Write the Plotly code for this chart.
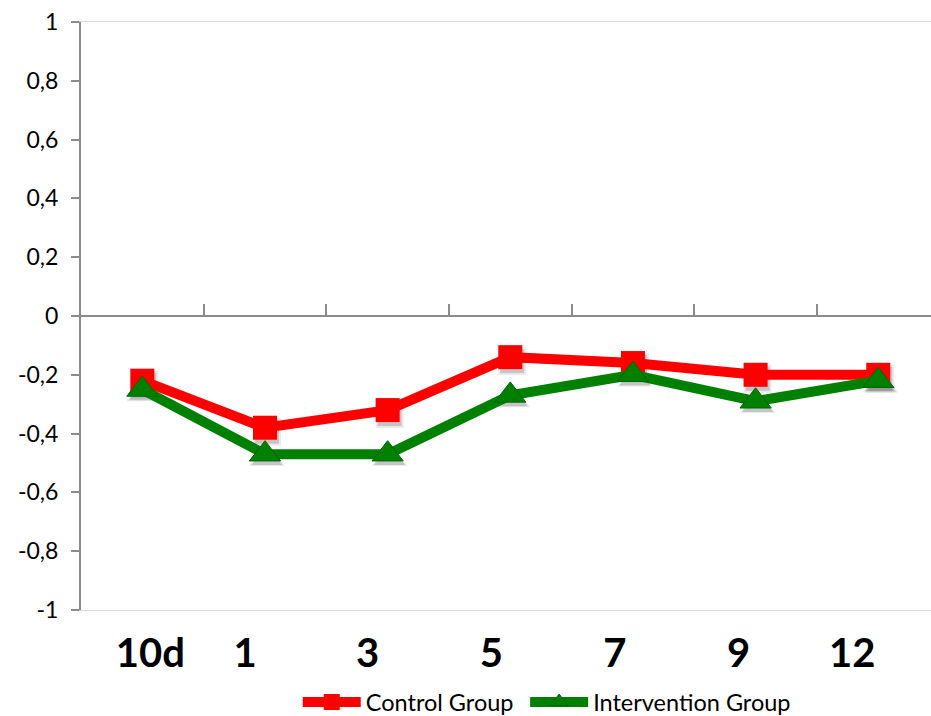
import plotly.graph_objects as go

# Time points and group means
categories = ["10d", "1", "3", "5", "7", "9", "12"]
control_group = [-0.22, -0.38, -0.32, -0.14, -0.16, -0.20, -0.20]
intervention_group = [-0.25, -0.47, -0.47, -0.27, -0.20, -0.29, -0.22]

y_tick_vals = [1, 0.8, 0.6, 0.4, 0.2, 0, -0.2, -0.4, -0.6, -0.8, -1]
y_tick_text = ["1", "0,8", "0,6", "0,4", "0,2", "0", "-0,2", "-0,4", "-0,6", "-0,8", "-1"]
boundary_ticks = [0.5, 1.5, 2.5, 3.5, 4.5, 5.5]

# horizontal nudge (px) of each category label from its slot centre
label_nudge_px = [8, -20, -20, -19, -18, -17, -26]

RED = "#FF0000"
GREEN = "#008000"
AXIS_GRAY = "#8c8c8c"
FONT = "Lato"

W, H = 931, 716
M_L, M_R, M_T, M_B = 81, 0, 22, 106
X_RANGE = [-0.5, 6.43]
Y_RANGE = [-1, 1]

px_per_x = (W - M_L - M_R) / (X_RANGE[1] - X_RANGE[0])
px_per_y = (H - M_T - M_B) / (Y_RANGE[1] - Y_RANGE[0])

# drop-shadow offset in pixels, converted to axis units
dx, dy = 2 / px_per_x, 4 / px_per_y

label_positions = [i + n / px_per_x for i, n in enumerate(label_nudge_px)]

fig = go.Figure()

# soft marker shadows on a hidden, slightly shifted axis pair
for vals, sym, size in [(control_group, "square", 24), (intervention_group, "triangle-up", 27)]:
    for extra, alpha in [(4, 0.08), (0, 0.16)]:
        fig.add_trace(go.Scatter(
            x=categories, y=vals, xaxis="x", yaxis="y", mode="markers",
            marker=dict(symbol=sym, size=size + extra, color=f"rgba(0,0,0,{alpha})"),
            showlegend=False, hoverinfo="skip",
        ))

fig.add_trace(go.Scatter(
    x=categories, y=control_group, name="Control Group", legend="legend",
    xaxis="x2", yaxis="y2", mode="lines+markers",
    line=dict(color=RED, width=10),
    marker=dict(symbol="square", size=24, color=RED),
))
fig.add_trace(go.Scatter(
    x=categories, y=intervention_group, name="Intervention Group", legend="legend2",
    xaxis="x2", yaxis="y2", mode="lines+markers",
    line=dict(color=GREEN, width=10),
    marker=dict(symbol="triangle-up", size=27, color=GREEN,
                line=dict(color="#006400", width=1)),
))
# empty traces so the zero-line axis and the label axis are rendered
for ax in ["x3", "x4"]:
    fig.add_trace(go.Scatter(x=[], y=[], xaxis=ax, yaxis="y2",
                             showlegend=False, hoverinfo="skip"))

hidden = dict(visible=False, showgrid=False, zeroline=False, showline=False)
legend_style = dict(
    orientation="h", xanchor="left", y=-0.157, yanchor="middle",
    font=dict(family=FONT, size=23.5, color="black"),
    itemwidth=58, bgcolor="rgba(0,0,0,0)",
)

fig.update_layout(
    width=W, height=H,
    margin=dict(l=M_L, r=M_R, t=M_T, b=M_B, autoexpand=False),
    paper_bgcolor="white", plot_bgcolor="white",
    font=dict(family=FONT, color="black"),
    showlegend=True,
    legend=dict(x=0.255, **legend_style),
    legend2=dict(x=0.5225, **legend_style),
    xaxis=dict(type="category", range=[X_RANGE[0] - dx, X_RANGE[1] - dx], **hidden),
    yaxis=dict(range=[Y_RANGE[0] + dy, Y_RANGE[1] + dy], **hidden),
    xaxis2=dict(
        type="category", overlaying="x", anchor="y2", range=X_RANGE,
        showgrid=False, zeroline=False,
        showline=True, linecolor="#d9d9d9", linewidth=1, mirror=True,
        ticks="", showticklabels=False,
    ),
    xaxis3=dict(
        overlaying="x", anchor="free", position=0.5,
        range=X_RANGE, showgrid=False, zeroline=False,
        showline=True, linecolor=AXIS_GRAY, linewidth=2,
        ticks="inside", ticklen=11, tickwidth=1.5, tickcolor=AXIS_GRAY,
        tickvals=boundary_ticks, showticklabels=False,
    ),
    xaxis4=dict(
        overlaying="x", anchor="y2", range=X_RANGE,
        showgrid=False, zeroline=False, showline=False, ticks="",
        tickvals=label_positions, ticktext=categories, ticklabelstandoff=16,
        tickfont=dict(family=FONT, size=40, color="black", weight="bold"),
    ),
    yaxis2=dict(
        overlaying="y", anchor="x2", range=Y_RANGE,
        showgrid=False, zeroline=False,
        showline=True, linecolor=AXIS_GRAY, linewidth=2,
        ticks="outside", ticklen=8, tickwidth=1.5, tickcolor=AXIS_GRAY,
        tickvals=y_tick_vals, ticktext=y_tick_text,
        tickfont=dict(family=FONT, size=23, color="black"),
        ticklabelstandoff=8,
    ),
)

fig.write_html("out.html")
